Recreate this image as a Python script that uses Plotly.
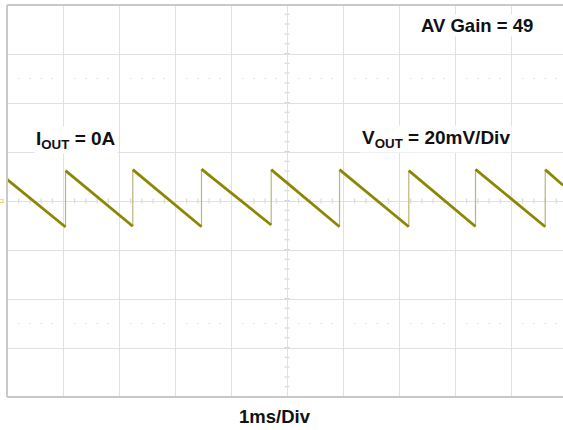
import plotly.graph_objects as go

# Waveform readings (time in ms relative to screen centre, voltage in mV)
edge_ms = [-3.955, -2.754, -1.527, -0.282, 0.938, 2.175, 3.366, 4.611]
peak_mv = [12.4, 12.8, 13.0, 12.8, 12.8, 12.4, 12.9, 12.8]
trough_mv = [-10.6, -10.3, -10.5, -9.8, -10.5, -10.5, -10.4, -10.5]
start_ms, start_mv = -5.0, 8.8
end_ms, end_mv = 4.93, 6.4

# Screen annotations
label_gain = "<b>AV Gain = 49</b>"
label_iout = "<b>I<sub>OUT</sub> = 0A</b>"
label_vout = "<b>V<sub>OUT</sub> = 20mV/Div</b>"
label_time = "<b>1ms/Div</b>"

TRACE = "#8c8703"
EDGE = "#b9b57c"
GRID = "#e0e0e0"
BORDER = "#c9c9c9"

# Build ramp segments and rising edges from the readings
ramp_x, ramp_y = [start_ms, edge_ms[0], None], [start_mv, trough_mv[0], None]
edge_x, edge_y = [], []
for i, t in enumerate(edge_ms):
    edge_x += [t, t, None]
    edge_y += [trough_mv[i], peak_mv[i], None]
    if i + 1 < len(edge_ms):
        ramp_x += [t, edge_ms[i + 1], None]
        ramp_y += [peak_mv[i], trough_mv[i + 1], None]
    else:
        ramp_x += [t, end_ms]
        ramp_y += [peak_mv[i], end_mv]

fig = go.Figure()
fig.add_trace(go.Scatter(x=edge_x, y=edge_y, mode="lines",
                         line=dict(color=EDGE, width=1.2), hoverinfo="skip"))
fig.add_trace(go.Scatter(x=ramp_x, y=ramp_y, mode="lines",
                         line=dict(color=TRACE, width=2.8), hoverinfo="skip"))
# trigger position marker
fig.add_trace(go.Scatter(x=[0], y=[-81.5], mode="markers", cliponaxis=False,
                         marker=dict(symbol="square", size=4, color="#c8b400"),
                         hoverinfo="skip"))

shapes = []
# minor ticks along centre lines
shapes.append(dict(type="line", xref="x", yref="y", x0=-5, x1=5, y0=0, y1=0,
                   line=dict(color="#cfcfcf", width=5, dash="1px,10.2px"), layer="below"))
shapes.append(dict(type="line", xref="x", yref="y", x0=0, x1=0, y0=-80, y1=80,
                   line=dict(color="#cfcfcf", width=5, dash="1px,8.8px"), layer="below"))
# dotted level lines
for lv in (50, -50):
    shapes.append(dict(type="line", xref="x", yref="y", x0=-5, x1=5, y0=lv, y1=lv,
                       line=dict(color="#cdcdcd", width=1, dash="1px,10.2px"), layer="below"))
# border (left, top, bottom)
shapes.append(dict(type="line", xref="paper", yref="paper", x0=0, x1=0, y0=0, y1=1,
                   line=dict(color=BORDER, width=2)))
shapes.append(dict(type="line", xref="paper", yref="paper", x0=0, x1=1, y0=1, y1=1,
                   line=dict(color=BORDER, width=2)))
shapes.append(dict(type="line", xref="paper", yref="paper", x0=0, x1=1, y0=0, y1=0,
                   line=dict(color=BORDER, width=2)))

fam = "Liberation Sans, Arial, sans-serif"
font_a = dict(family=fam, size=18.5, color="#111111")
font_b = dict(family=fam, size=19, color="#111111")
annotations = [
    dict(text=label_gain, x=3.40, y=71.5, xref="x", yref="y", showarrow=False,
         xanchor="center", yanchor="middle", font=font_a, bgcolor="white", borderpad=0),
    dict(text=label_iout, x=-4.51, y=25.0, xref="x", yref="y", showarrow=False,
         xanchor="left", yanchor="middle", font=font_b, bgcolor="white", borderpad=1),
    dict(text=label_vout, x=1.31, y=25.5, xref="x", yref="y", showarrow=False,
         xanchor="left", yanchor="middle", font=font_b, bgcolor="white", borderpad=1),
    dict(text=label_time, x=-0.22, y=-0.05, xref="x", yref="paper", showarrow=False,
         xanchor="center", yanchor="middle", font=font_a),
    dict(text="C1", x=0, y=0, xref="paper", yref="y", showarrow=False,
         xanchor="right", yanchor="middle", font=dict(family=fam, size=5, color="#c8b400")),
]

fig.update_layout(
    width=563, height=430,
    margin=dict(l=7, r=0, t=5, b=33),
    paper_bgcolor="white", plot_bgcolor="white",
    showlegend=False,
    shapes=shapes, annotations=annotations,
    xaxis=dict(range=[-5, -5 + 556 / 56], tick0=0, dtick=1, showgrid=True,
               gridcolor=GRID, gridwidth=1, zeroline=False, showticklabels=False,
               showline=False, ticks="", fixedrange=True),
    yaxis=dict(range=[-80, 80], tick0=0, dtick=20, showgrid=True,
               gridcolor=GRID, gridwidth=1, zeroline=False, showticklabels=False,
               showline=False, ticks="", fixedrange=True),
)

fig.write_html("out.html", config=dict(displayModeBar=False),
               post_script="document.body.style.margin='0';document.body.style.padding='0';"
                           "document.body.style.overflow='hidden';")
